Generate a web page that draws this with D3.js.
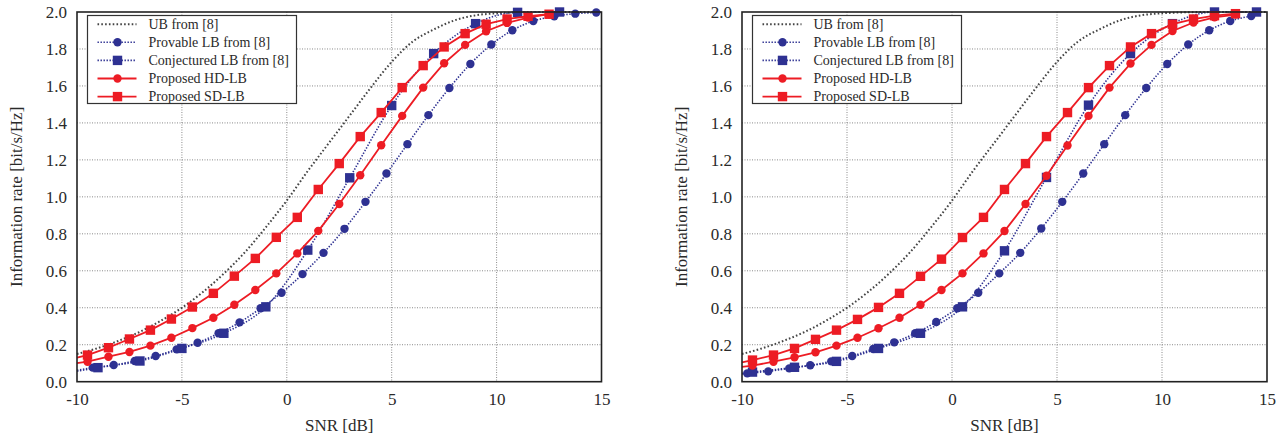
<!DOCTYPE html>
<html>
<head>
<meta charset="utf-8">
<script src="https://cdn.jsdelivr.net/npm/d3@7/dist/d3.min.js"></script>
<style>
  body { margin: 0; background: #fff; }
  svg { display: block; }
  text { font-family: "Liberation Serif", "Times New Roman", serif; fill: #2a2a2a; }
</style>
</head>
<body>
<div id="chart"></div>
<script>
// ---- data ----
const snrTicks = [-10, -5, 0, 5, 10, 15];
const snrTickLabels = ["-10", "-5", "0", "5", "10", "15"];
const rateTicks = [0, 0.2, 0.4, 0.6, 0.8, 1.0, 1.2, 1.4, 1.6, 1.8, 2.0];

const legendLabels = ["UB from [8]", "Provable LB from [8]", "Conjectured LB from [8]", "Proposed HD-LB", "Proposed SD-LB"];

// upper bound, same in both panels
const ubSnr  = [-10, -9, -8, -7, -6, -5, -4, -3, -2, -1, 0, 1, 2, 3, 4, 5, 6, 7, 8, 9, 10, 11, 12, 13, 15];
const ubRate = [0.15, 0.182, 0.222, 0.27, 0.33, 0.40, 0.485, 0.585, 0.70, 0.835, 0.98, 1.14, 1.29, 1.44, 1.59, 1.73, 1.84, 1.905, 1.955, 1.982, 1.993, 1.998, 2.0, 2.0, 2.0];

// left panel (first point of each series at -10 is where the line starts, no marker)
const leftProvableSnr  = [-10, -9.25, -8.25, -7.25, -6.25, -5.25, -4.25, -3.25, -2.25, -1.25, -0.25, 0.75, 1.75, 2.75, 3.75, 4.75, 5.75, 6.75, 7.75, 8.75, 9.75, 10.75, 11.75, 12.75, 13.75, 14.75];
const leftProvableRate = [0.062, 0.076, 0.090, 0.112, 0.139, 0.175, 0.211, 0.262, 0.321, 0.397, 0.481, 0.582, 0.697, 0.827, 0.973, 1.126, 1.285, 1.442, 1.589, 1.719, 1.824, 1.901, 1.951, 1.977, 1.991, 1.997];
const leftConjSnr  = [-10, -9, -7, -5, -3, -1, 1, 3, 5, 7, 9, 11, 13];
const leftConjRate = [0.057, 0.076, 0.112, 0.18, 0.262, 0.405, 0.712, 1.103, 1.494, 1.775, 1.937, 1.998, 2.0];
const leftHdSnr  = [-10, -9.5, -8.5, -7.5, -6.5, -5.5, -4.5, -3.5, -2.5, -1.5, -0.5, 0.5, 1.5, 2.5, 3.5, 4.5, 5.5, 6.5, 7.5, 8.5, 9.5, 10.5, 11.5, 12.5];
const leftHdRate = [0.10, 0.108, 0.135, 0.161, 0.195, 0.238, 0.29, 0.346, 0.416, 0.496, 0.586, 0.694, 0.816, 0.961, 1.117, 1.279, 1.438, 1.591, 1.723, 1.822, 1.896, 1.941, 1.97, 1.988];
const leftSdSnr  = [-10, -9.5, -8.5, -7.5, -6.5, -5.5, -4.5, -3.5, -2.5, -1.5, -0.5, 0.5, 1.5, 2.5, 3.5, 4.5, 5.5, 6.5, 7.5, 8.5, 9.5, 10.5, 11.5, 12.5];
const leftSdRate = [0.13, 0.144, 0.184, 0.231, 0.279, 0.339, 0.404, 0.478, 0.571, 0.667, 0.781, 0.889, 1.04, 1.18, 1.326, 1.456, 1.591, 1.71, 1.811, 1.883, 1.934, 1.962, 1.977, 1.988];

// right panel
const rightProvableSnr  = [-10, -9.75, -8.75, -7.75, -6.75, -5.75, -4.75, -3.75, -2.75, -1.75, -0.75, 0.25, 1.25, 2.25, 3.25, 4.25, 5.25, 6.25, 7.25, 8.25, 9.25, 10.25, 11.25, 12.25, 13.25, 14.25];
const rightProvableRate = [0.042, 0.045, 0.056, 0.072, 0.089, 0.11, 0.139, 0.177, 0.213, 0.262, 0.323, 0.397, 0.481, 0.586, 0.697, 0.829, 0.973, 1.126, 1.285, 1.442, 1.589, 1.719, 1.824, 1.901, 1.951, 1.978];
const rightConjSnr  = [-10, -9.5, -7.5, -5.5, -3.5, -1.5, 0.5, 2.5, 4.5, 6.5, 8.5, 10.5, 12.5, 14.5];
const rightConjRate = [0.045, 0.052, 0.078, 0.11, 0.18, 0.262, 0.405, 0.708, 1.105, 1.496, 1.775, 1.937, 2.0, 2.0];
const rightHdSnr  = [-10, -9.5, -8.5, -7.5, -6.5, -5.5, -4.5, -3.5, -2.5, -1.5, -0.5, 0.5, 1.5, 2.5, 3.5, 4.5, 5.5, 6.5, 7.5, 8.5, 9.5, 10.5, 11.5, 12.5, 13.5];
const rightHdRate = [0.08, 0.087, 0.108, 0.132, 0.159, 0.195, 0.238, 0.289, 0.346, 0.416, 0.496, 0.586, 0.694, 0.815, 0.961, 1.114, 1.278, 1.438, 1.591, 1.721, 1.822, 1.897, 1.943, 1.971, 1.986];
const rightSdSnr  = [-10, -9.5, -8.5, -7.5, -6.5, -5.5, -4.5, -3.5, -2.5, -1.5, -0.5, 0.5, 1.5, 2.5, 3.5, 4.5, 5.5, 6.5, 7.5, 8.5, 9.5, 10.5, 11.5, 12.5, 13.5];
const rightSdRate = [0.105, 0.117, 0.144, 0.18, 0.229, 0.279, 0.337, 0.402, 0.478, 0.57, 0.663, 0.78, 0.889, 1.04, 1.18, 1.326, 1.456, 1.591, 1.71, 1.811, 1.883, 1.934, 1.962, 1.98, 1.991];

const zip = (xs, ys) => xs.map((x, i) => ({x: x, y: ys[i]}));

const config = {
    width: 1284,
    height: 439,
    top: 12,
    bottom: 381.7,
    panels: [{left: 77, right: 601.5}, {left: 742, right: 1267}],
    red: "#ed1c24",
    blue: "#2e3192",
    fontSize: 17
};

const styles = [
    {color: "#444", dash: "1.6,2.2", width: 2, marker: null, curve: d3.curveMonotoneX},
    {color: config.blue, dash: "1.4,1.6", width: 1.6, marker: "circle", curve: d3.curveMonotoneX},
    {color: config.blue, dash: "1.4,1.6", width: 1.6, marker: "square", curve: d3.curveMonotoneX},
    {color: config.red, dash: null, width: 1.8, marker: "circle", curve: d3.curveLinear},
    {color: config.red, dash: null, width: 1.8, marker: "square", curve: d3.curveLinear}
];

const panelSeries = [
    [zip(ubSnr, ubRate), zip(leftProvableSnr, leftProvableRate), zip(leftConjSnr, leftConjRate), zip(leftHdSnr, leftHdRate), zip(leftSdSnr, leftSdRate)],
    [zip(ubSnr, ubRate), zip(rightProvableSnr, rightProvableRate), zip(rightConjSnr, rightConjRate), zip(rightHdSnr, rightHdRate), zip(rightSdSnr, rightSdRate)]
];

const svg = d3.select("#chart")
    .append("svg")
    .attr("width", config.width)
    .attr("height", config.height);

function drawMarker(g, type, x, y, color) {
    if (type === "circle") {
        g.append("circle").attr("cx", x).attr("cy", y).attr("r", 4.2).attr("fill", color);
    } else if (type === "square") {
        g.append("rect").attr("x", x - 4.7).attr("y", y - 4.7).attr("width", 9.4).attr("height", 9.4).attr("fill", color);
    }
}

config.panels.forEach((p, pi) => {
    const xScale = d3.scaleLinear().domain([-10, 15]).range([p.left, p.right]);
    const yScale = d3.scaleLinear().domain([0, 2]).range([config.bottom, config.top]);
    const g = svg.append("g");

    // grid
    g.append("g").selectAll("line.vgrid")
        .data(snrTicks.slice(1, -1))
        .join("line")
        .attr("x1", d => xScale(d)).attr("x2", d => xScale(d))
        .attr("y1", config.top).attr("y2", config.bottom)
        .attr("stroke", "#8a8a8a").attr("stroke-width", 1).attr("stroke-dasharray", "1,1.5");
    g.append("g").selectAll("line.hgrid")
        .data(rateTicks.slice(1, -1))
        .join("line")
        .attr("x1", p.left).attr("x2", p.right)
        .attr("y1", d => yScale(d)).attr("y2", d => yScale(d))
        .attr("stroke", "#8a8a8a").attr("stroke-width", 1).attr("stroke-dasharray", "1,1.5");

    // axes
    const xAxis = g.append("g")
        .attr("transform", `translate(0,${config.bottom})`)
        .call(d3.axisBottom(xScale).tickValues(snrTicks).tickSize(0).tickPadding(11)
            .tickFormat((d, i) => snrTickLabels[i]));
    const yAxis = g.append("g")
        .attr("transform", `translate(${p.left},0)`)
        .call(d3.axisLeft(yScale).tickValues(rateTicks).tickSize(0).tickPadding(10).tickFormat(d3.format(".1f")));
    [xAxis, yAxis].forEach(a => {
        a.select(".domain").remove();
        a.selectAll("text").style("font-size", config.fontSize + "px")
            .style("font-family", "'Liberation Serif', serif").attr("fill", "#2a2a2a");
    });

    // series
    const series = panelSeries[pi];
    series.forEach((data, si) => {
        const st = styles[si];
        const line = d3.line().x(d => xScale(d.x)).y(d => yScale(d.y)).curve(st.curve);
        g.append("path")
            .datum(data)
            .attr("d", line)
            .attr("fill", "none")
            .attr("stroke", st.color)
            .attr("stroke-width", st.width)
            .attr("stroke-dasharray", st.dash);
        if (st.marker) {
            const mg = g.append("g");
            data.filter(d => d.x > -10).forEach(d => drawMarker(mg, st.marker, xScale(d.x), yScale(d.y), st.color));
        }
    });

    // frame
    g.append("rect")
        .attr("x", p.left).attr("y", config.top)
        .attr("width", p.right - p.left).attr("height", config.bottom - config.top)
        .attr("fill", "none").attr("stroke", "#222").attr("stroke-width", 1.6);

    // axis titles
    g.append("text")
        .attr("text-anchor", "middle")
        .attr("x", (p.left + p.right) / 2)
        .attr("y", 431)
        .style("font-size", config.fontSize + "px")
        .text("SNR [dB]");
    g.append("text")
        .attr("text-anchor", "middle")
        .attr("transform", `translate(${p.left - 55},${(config.top + config.bottom) / 2})rotate(-90)`)
        .style("font-size", config.fontSize + "px")
        .text("Information rate [bit/s/Hz]");

    // legend
    const lx = p.left + 10.5, ly = 15.5;
    const lg = g.append("g");
    lg.append("rect")
        .attr("x", lx).attr("y", ly).attr("width", 209).attr("height", 88)
        .attr("fill", "#fff").attr("stroke", "#333").attr("stroke-width", 1.2);
    legendLabels.forEach((label, i) => {
        const st = styles[i];
        const yy = ly + 8.7 + i * 18.1;
        lg.append("line")
            .attr("x1", lx + 10).attr("x2", lx + 49)
            .attr("y1", yy).attr("y2", yy)
            .attr("stroke", st.color).attr("stroke-width", st.width)
            .attr("stroke-dasharray", st.dash);
        drawMarker(lg, st.marker, lx + 30, yy, st.color);
        lg.append("text")
            .attr("x", lx + 61).attr("y", yy + 4.8)
            .style("font-size", "14px")
            .text(label);
    });
});
</script>
</body>
</html>
